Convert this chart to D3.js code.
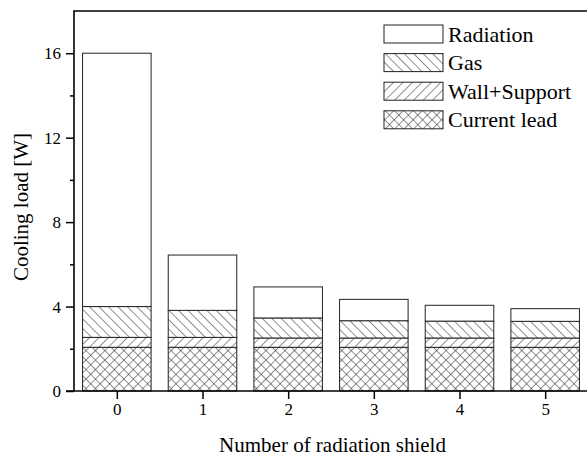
<!DOCTYPE html>
<html>
<head>
<meta charset="utf-8">
<script src="https://cdn.jsdelivr.net/npm/d3@7"></script>
<style>
  body { margin: 0; background: #fff; }
</style>
</head>
<body>
<div id="chart"></div>
<script>
// Data (stack order bottom -> top)
const shields     = [0, 1, 2, 3, 4, 5];
const currentLead = [2.07, 2.07, 2.07, 2.07, 2.07, 2.07];
const wallSupport = [0.47, 0.47, 0.44, 0.44, 0.44, 0.44];
const gas         = [1.46, 1.28, 0.95, 0.82, 0.80, 0.79];
const radiation   = [12.0, 2.62, 1.47, 1.01, 0.75, 0.60];

const seriesNames = ["Current lead", "Wall+Support", "Gas", "Radiation"];
const legendOrder = ["Radiation", "Gas", "Wall+Support", "Current lead"];
const yMajor = [0, 4, 8, 12, 16];
const yMinor = [2, 6, 10, 14];

const W = 587, H = 457;
const margin = { top: 11, left: 74, bottom: 66 };
const serif = "'Liberation Serif', 'Times New Roman'";

const svg = d3.select("#chart").append("svg")
    .attr("width", W)
    .attr("height", H)
    .style("font-family", serif);

// rows for the stack
const table = shields.map((s, i) => ({
  shield: s,
  "Current lead": currentLead[i],
  "Wall+Support": wallSupport[i],
  "Gas": gas[i],
  "Radiation": radiation[i]
}));
const stacked = d3.stack().keys(seriesNames)(table);

const x = d3.scaleLinear().domain([-0.5, 5.5]).range([margin.left, 588]);
const y = d3.scaleLinear().domain([0, 18]).range([H - margin.bottom, margin.top]);
const barW = x(0.8) - x(0);

// ---------- hatch patterns ----------
const defs = svg.append("defs");
const gap = 6.7;
function hatch(id, angle) {
  const p = defs.append("pattern")
      .attr("id", id)
      .attr("patternUnits", "userSpaceOnUse")
      .attr("width", gap)
      .attr("height", gap * 4)
      .attr("patternTransform", `rotate(${angle})`);
  p.append("line")
      .attr("x1", 0).attr("y1", 0)
      .attr("x2", 0).attr("y2", gap * 4)
      .attr("stroke", "#333")
      .attr("stroke-width", 1.1);
}
hatch("hGas", -45);
hatch("hWall", 45);
hatch("hLeadA", 45);
hatch("hLeadB", -45);

const fills = {
  "Radiation": ["#fff"],
  "Gas": ["url(#hGas)"],
  "Wall+Support": ["url(#hWall)"],
  "Current lead": ["url(#hLeadA)", "url(#hLeadB)"]
};

// ---------- bars ----------
const layers = svg.append("g").selectAll("g")
  .data(stacked)
  .join("g");

layers.each(function(layer) {
  const g = d3.select(this);
  g.selectAll("rect.bg")
    .data(layer)
    .join("rect")
      .attr("class", "bg")
      .attr("x", d => x(d.data.shield) - barW / 2)
      .attr("width", barW)
      .attr("y", d => y(d[1]))
      .attr("height", d => y(d[0]) - y(d[1]))
      .attr("fill", "#fff");
  fills[layer.key].forEach((f, k) => {
    g.selectAll("rect.f" + k)
      .data(layer)
      .join("rect")
        .attr("class", "f" + k)
        .attr("x", d => x(d.data.shield) - barW / 2)
        .attr("width", barW)
        .attr("y", d => y(d[1]))
        .attr("height", d => y(d[0]) - y(d[1]))
        .attr("fill", f);
  });
  g.selectAll("rect.edge")
    .data(layer)
    .join("rect")
      .attr("class", "edge")
      .attr("x", d => x(d.data.shield) - barW / 2)
      .attr("width", barW)
      .attr("y", d => y(d[1]))
      .attr("height", d => y(d[0]) - y(d[1]))
      .attr("fill", "none")
      .attr("stroke", "#222")
      .attr("stroke-width", 1);
});

// ---------- axes ----------
svg.append("g")
    .attr("transform", `translate(${margin.left},0)`)
    .call(d3.axisLeft(y).tickValues(yMajor).tickSize(8).tickSizeOuter(0).tickPadding(5).tickFormat(d3.format("d")));
svg.append("g")
    .attr("transform", `translate(${margin.left},0)`)
    .call(d3.axisLeft(y).tickValues(yMinor).tickSize(4).tickSizeOuter(0).tickFormat(""));

svg.append("g")
    .attr("transform", `translate(0,${y(0)})`)
    .call(d3.axisBottom(x).tickValues(shields).tickSize(8).tickSizeOuter(0).tickPadding(4).tickFormat(d3.format("d")));

svg.selectAll(".domain").remove();
svg.selectAll("g[font-family]").attr("font-family", null);
svg.selectAll(".tick line").attr("stroke", "#000").attr("stroke-width", 1.5);
svg.selectAll(".tick text")
    .attr("font-size", 17)
    .attr("fill", "#000");

// frame lines (right side is cut off in the reference)
svg.append("line")
    .attr("x1", margin.left).attr("x2", margin.left)
    .attr("y1", y(18)).attr("y2", y(0))
    .attr("stroke", "#000").attr("stroke-width", 1.6);
svg.append("line")
    .attr("x1", margin.left - 0.8).attr("x2", W)
    .attr("y1", y(18)).attr("y2", y(18))
    .attr("stroke", "#000").attr("stroke-width", 1.6);
svg.append("line")
    .attr("x1", margin.left - 8).attr("x2", W)
    .attr("y1", y(0)).attr("y2", y(0))
    .attr("stroke", "#000").attr("stroke-width", 1.6);

// ---------- axis titles ----------
svg.append("text")
    .attr("x", (margin.left + W) / 2 + 2)
    .attr("y", 452)
    .attr("text-anchor", "middle")
    .attr("font-size", 21)
    .text("Number of radiation shield");

svg.append("text")
    .attr("transform", `translate(28,${y(9) + 6}) rotate(-90)`)
    .attr("text-anchor", "middle")
    .attr("font-size", 21)
    .text("Cooling load [W]");

// ---------- legend ----------
const legend = svg.append("g")
    .attr("transform", "translate(384,34)");
const item = legend.selectAll("g")
  .data(legendOrder)
  .join("g")
    .attr("transform", (d, i) => `translate(0,${i * 28.6})`);

item.append("rect")
    .attr("x", 0).attr("y", -9)
    .attr("width", 59).attr("height", 18)
    .attr("fill", "#fff");
item.each(function(d) {
  const g = d3.select(this);
  fills[d].forEach(f => {
    g.append("rect")
      .attr("x", 0).attr("y", -9)
      .attr("width", 59).attr("height", 18)
      .attr("fill", f);
  });
});
item.append("rect")
    .attr("x", 0).attr("y", -9)
    .attr("width", 59).attr("height", 18)
    .attr("fill", "none")
    .attr("stroke", "#222")
    .attr("stroke-width", 1);
item.append("text")
    .attr("x", 64)
    .attr("y", 7.5)
    .attr("font-size", 22)
    .text(d => d);
</script>
</body>
</html>
